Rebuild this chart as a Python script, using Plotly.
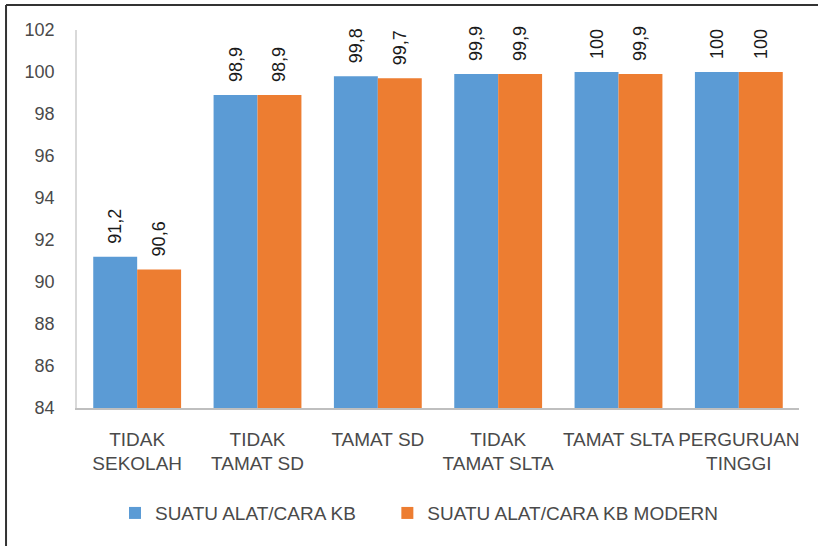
import plotly.graph_objects as go

categories = ["TIDAK<br>SEKOLAH", "TIDAK<br>TAMAT SD", "TAMAT SD",
              "TIDAK<br>TAMAT SLTA", "TAMAT SLTA", "PERGURUAN<br>TINGGI"]
series1_name = "SUATU ALAT/CARA KB"
series2_name = "SUATU ALAT/CARA KB MODERN"
series1 = [91.2, 98.9, 99.8, 99.9, 100, 100]
series2 = [90.6, 98.9, 99.7, 99.9, 99.9, 100]
y_ticks = list(range(84, 103, 2))


def fmt(v):
    s = f"{v:.1f}"
    if s.endswith(".0"):
        s = s[:-2]
    return "\u00a0\u00a0" + s.replace(".", ",")


FONT = "Liberation Sans, Arial"
TXT = "#4a4a4a"
PAD = "\u00a0" * 5  # extra spacing between legend entries

fig = go.Figure()
for name, vals, color in [(series1_name + PAD, series1, "#5B9BD5"),
                          (series2_name, series2, "#ED7D31")]:
    fig.add_trace(go.Bar(
        x=categories, y=vals, name=name,
        marker=dict(color=color, line=dict(width=0)),
        text=[fmt(v) for v in vals], textposition="outside", textangle=-90,
        textfont=dict(size=18, color="#1a1a1a", family=FONT), cliponaxis=False,
        constraintext="none",
    ))

fig.update_layout(
    width=818, height=546,
    margin=dict(l=77, r=19, t=30, b=138),
    paper_bgcolor="white", plot_bgcolor="white",
    font=dict(family=FONT, size=18, color=TXT),
    barmode="group", bargap=0.27, bargroupgap=0,
    showlegend=True,
    legend=dict(orientation="h", x=0.0526, xanchor="left", y=-0.278, yanchor="middle",
                font=dict(size=19, color=TXT), itemwidth=30, tracegroupgap=0),
    xaxis=dict(showline=True, linecolor="#BFBFBF", linewidth=1.5, ticks="",
               showgrid=False, tickfont=dict(size=19, color=TXT),
               ticklabelstandoff=13),
    yaxis=dict(range=[84, 102], tickvals=y_ticks, showline=True, linecolor="#D9D9D9",
               linewidth=1.5, showgrid=False, ticks="", zeroline=False,
               tickfont=dict(size=18, color=TXT), ticklabelstandoff=17),
    shapes=[
        dict(type="line", xref="paper", yref="paper", x0=-0.0983, x1=1.03,
             y0=1.066, y1=1.066, line=dict(color="#333333", width=2)),
        dict(type="line", xref="paper", yref="paper", x0=-0.0983, x1=-0.0983,
             y0=1.066, y1=-0.37, line=dict(color="#333333", width=2)),
    ],
)

fig.write_html("out.html", config={"displayModeBar": False},
               post_script="document.body.style.margin='0';")
